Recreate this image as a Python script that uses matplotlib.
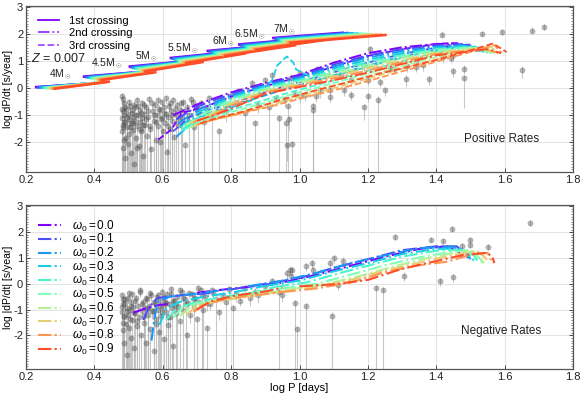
import numpy as np
import matplotlib
matplotlib.use('Agg')
import matplotlib.pyplot as plt
from matplotlib.ticker import MultipleLocator, FormatStrFormatter
from matplotlib.lines import Line2D

plt.rcParams['font.family'] = ['Liberation Sans', 'DejaVu Sans']
plt.rcParams['axes.unicode_minus'] = False
plt.rcParams['mathtext.fontset'] = 'custom'
plt.rcParams['mathtext.rm'] = 'Liberation Sans'
plt.rcParams['mathtext.it'] = 'Liberation Sans:italic'

omegas = [0.0, 0.1, 0.2, 0.3, 0.4, 0.5, 0.6, 0.7, 0.8, 0.9]
mass_labels = ['4M$_\\odot$', '4.5M$_\\odot$', '5M$_\\odot$', '5.5M$_\\odot$',
               '6M$_\\odot$', '6.5M$_\\odot$', '7M$_\\odot$']
mass_label_x = [0.300, 0.436, 0.553, 0.660, 0.777, 0.855, 0.957]
mass_label_y = [0.48, 0.91, 1.15, 1.46, 1.71, 1.99, 2.17]

# ---- 1st crossing: one straight piece per mass and omega ----
c1_x0 = [
    [0.226, 0.232, 0.238, 0.244, 0.250, 0.256, 0.262, 0.268, 0.274, 0.280],
    [0.366, 0.372, 0.377, 0.383, 0.388, 0.394, 0.399, 0.405, 0.410, 0.416],
    [0.500, 0.505, 0.510, 0.515, 0.520, 0.525, 0.530, 0.535, 0.540, 0.545],
    [0.620, 0.625, 0.630, 0.635, 0.640, 0.645, 0.650, 0.655, 0.660, 0.665],
    [0.728, 0.734, 0.740, 0.745, 0.751, 0.757, 0.763, 0.768, 0.774, 0.780],
    [0.820, 0.826, 0.831, 0.837, 0.842, 0.848, 0.853, 0.859, 0.864, 0.870],
    [0.920, 0.926, 0.931, 0.937, 0.942, 0.948, 0.953, 0.959, 0.964, 0.970],
]
c1_y0 = [
    [0.040, 0.033, 0.027, 0.020, 0.013, 0.007, 0.000, -0.007, -0.013, -0.020],
    [0.430, 0.416, 0.401, 0.387, 0.372, 0.358, 0.343, 0.329, 0.314, 0.300],
    [0.800, 0.780, 0.760, 0.740, 0.720, 0.700, 0.680, 0.660, 0.640, 0.620],
    [1.120, 1.099, 1.078, 1.057, 1.036, 1.014, 0.993, 0.972, 0.951, 0.930],
    [1.380, 1.360, 1.340, 1.320, 1.300, 1.280, 1.260, 1.240, 1.220, 1.200],
    [1.620, 1.598, 1.576, 1.553, 1.531, 1.509, 1.487, 1.464, 1.442, 1.420],
    [1.860, 1.840, 1.820, 1.800, 1.780, 1.760, 1.740, 1.720, 1.700, 1.680],
]
c1_x1 = [
    [0.380, 0.387, 0.395, 0.402, 0.409, 0.417, 0.424, 0.431, 0.439, 0.446],
    [0.510, 0.518, 0.526, 0.534, 0.542, 0.550, 0.558, 0.566, 0.574, 0.582],
    [0.640, 0.649, 0.658, 0.667, 0.676, 0.684, 0.693, 0.702, 0.711, 0.720],
    [0.780, 0.787, 0.794, 0.802, 0.809, 0.816, 0.823, 0.831, 0.838, 0.845],
    [0.900, 0.910, 0.920, 0.930, 0.940, 0.950, 0.960, 0.970, 0.980, 0.990],
    [1.000, 1.011, 1.022, 1.033, 1.044, 1.056, 1.067, 1.078, 1.089, 1.100],
    [1.130, 1.144, 1.158, 1.172, 1.186, 1.199, 1.213, 1.227, 1.241, 1.255],
]
c1_y1 = [
    [0.170, 0.179, 0.188, 0.197, 0.206, 0.214, 0.223, 0.232, 0.241, 0.250],
    [0.580, 0.582, 0.584, 0.587, 0.589, 0.591, 0.593, 0.596, 0.598, 0.600],
    [0.970, 0.971, 0.972, 0.973, 0.974, 0.976, 0.977, 0.978, 0.979, 0.980],
    [1.320, 1.318, 1.316, 1.313, 1.311, 1.309, 1.307, 1.304, 1.302, 1.300],
    [1.580, 1.582, 1.584, 1.587, 1.589, 1.591, 1.593, 1.596, 1.598, 1.600],
    [1.820, 1.822, 1.824, 1.827, 1.829, 1.831, 1.833, 1.836, 1.838, 1.840],
    [2.060, 2.051, 2.042, 2.033, 2.024, 2.016, 2.007, 1.998, 1.989, 1.980],
]

# ---- 2nd crossing (dash-dot), one row per omega ----
c2_x = [
    [0.63, 0.70, 0.80, 0.90, 1.00, 1.10, 1.20, 1.30, 1.40, 1.46, 1.49],
    [0.64, 0.70, 0.80, 0.90, 1.00, 1.10, 1.20, 1.30, 1.40, 1.47, 1.50],
    [0.645, 0.71, 0.80, 0.90, 1.00, 1.10, 1.20, 1.30, 1.40, 1.48, 1.51],
    [0.65, 0.71, 0.80, 0.90, 1.00, 1.10, 1.20, 1.30, 1.40, 1.49, 1.52],
    [0.655, 0.72, 0.80, 0.90, 1.00, 1.10, 1.20, 1.30, 1.40, 1.50, 1.53],
    [0.66, 0.72, 0.80, 0.90, 1.00, 1.10, 1.20, 1.30, 1.40, 1.51, 1.55],
    [0.67, 0.73, 0.80, 0.90, 1.00, 1.10, 1.20, 1.30, 1.40, 1.52, 1.56],
    [0.68, 0.74, 0.80, 0.90, 1.00, 1.10, 1.20, 1.30, 1.40, 1.53, 1.57],
    [0.69, 0.75, 0.80, 0.90, 1.00, 1.10, 1.20, 1.30, 1.40, 1.54, 1.58],
    [0.70, 0.76, 0.81, 0.90, 1.00, 1.10, 1.20, 1.30, 1.40, 1.55, 1.59],
]
c2_y = [
    [-1.00, -0.60, -0.15, 0.20, 0.50, 0.95, 1.30, 1.52, 1.64, 1.66, 1.45],
    [-1.15, -0.68, -0.21, 0.16, 0.45, 0.88, 1.22, 1.45, 1.59, 1.63, 1.42],
    [-1.30, -0.75, -0.27, 0.11, 0.40, 0.81, 1.14, 1.38, 1.55, 1.60, 1.40],
    [-1.45, -0.85, -0.33, 0.07, 0.35, 0.73, 1.06, 1.31, 1.50, 1.57, 1.38],
    [-1.55, -0.90, -0.39, 0.02, 0.30, 0.66, 0.98, 1.24, 1.45, 1.54, 1.36],
    [-1.40, -0.95, -0.46, -0.02, 0.25, 0.59, 0.90, 1.18, 1.41, 1.52, 1.35],
    [-1.35, -1.00, -0.52, -0.07, 0.20, 0.52, 0.82, 1.11, 1.36, 1.50, 1.34],
    [-1.30, -1.00, -0.58, -0.11, 0.15, 0.44, 0.74, 1.04, 1.31, 1.48, 1.33],
    [-1.25, -0.98, -0.64, -0.16, 0.10, 0.37, 0.66, 0.97, 1.27, 1.46, 1.32],
    [-1.20, -0.95, -0.70, -0.20, 0.05, 0.30, 0.58, 0.90, 1.22, 1.45, 1.30],
]

# ---- 3rd crossing (dashed), one row per omega ----
c3_x = [
    [0.587, 0.626, 0.655, 0.72, 0.80, 0.90, 1.00, 1.10, 1.20, 1.30, 1.41, 1.47, 1.51],
    [0.63, 0.68, 0.75, 0.85, 0.95, 1.05, 1.15, 1.25, 1.35, 1.45, 1.50, 1.52],
    [0.64, 0.69, 0.76, 0.86, 0.96, 1.06, 1.16, 1.26, 1.36, 1.46, 1.51, 1.53],
    [0.65, 0.70, 0.78, 0.86, 0.92, 0.935, 0.963, 0.982, 0.99, 1.05, 1.15, 1.25,
     1.35, 1.45, 1.52, 1.54],
    [0.66, 0.71, 0.78, 0.88, 0.98, 1.08, 1.18, 1.28, 1.38, 1.48, 1.53, 1.55],
    [0.67, 0.72, 0.79, 0.89, 0.99, 1.09, 1.19, 1.29, 1.39, 1.49, 1.54, 1.56],
    [0.68, 0.73, 0.80, 0.90, 1.00, 1.10, 1.20, 1.30, 1.40, 1.50, 1.55, 1.57],
    [0.69, 0.74, 0.81, 0.91, 1.01, 1.11, 1.21, 1.31, 1.41, 1.51, 1.56, 1.58],
    [0.70, 0.75, 0.82, 0.92, 1.02, 1.12, 1.22, 1.32, 1.42, 1.52, 1.57, 1.59],
    [0.71, 0.76, 0.84, 0.94, 1.04, 1.14, 1.235, 1.32, 1.40, 1.47, 1.52, 1.566, 1.606],
]
c3_y = [
    [-1.90, -1.52, -0.91, -0.71, -0.30, 0.08, 0.42, 0.80, 1.20, 1.45, 1.66, 1.67, 1.40],
    [-1.60, -1.05, -0.75, -0.35, 0.05, 0.40, 0.78, 1.12, 1.40, 1.60, 1.62, 1.35],
    [-1.80, -1.15, -0.80, -0.42, -0.02, 0.33, 0.70, 1.05, 1.34, 1.56, 1.58, 1.33],
    [-1.70, -1.10, -0.80, -0.45, 0.30, 0.85, 1.18, 0.95, 0.70, 0.30, 0.62, 0.98,
     1.28, 1.50, 1.54, 1.32],
    [-1.55, -1.15, -0.88, -0.50, -0.12, 0.22, 0.58, 0.94, 1.26, 1.50, 1.52, 1.30],
    [-1.50, -1.18, -0.92, -0.56, -0.18, 0.16, 0.52, 0.88, 1.21, 1.47, 1.50, 1.28],
    [-1.45, -1.20, -0.96, -0.60, -0.24, 0.10, 0.46, 0.82, 1.16, 1.45, 1.50, 1.28],
    [-1.40, -1.20, -1.00, -0.64, -0.28, 0.04, 0.40, 0.76, 1.11, 1.44, 1.55, 1.30],
    [-1.35, -1.15, -0.95, -0.66, -0.32, -0.01, 0.34, 0.70, 1.06, 1.42, 1.60, 1.32],
    [-1.30, -1.10, -0.85, -0.45, -0.10, 0.22, 0.55, 0.80, 1.05, 1.30, 1.48, 1.66, 1.34],
]

# ---- negative rates: two pieces per omega ----
neg_a_x = [
    [0.514, 0.55, 0.59, 0.62],
    [0.543, 0.56, 0.585, 0.65, 0.75],
    [0.567, 0.575, 0.585, 0.62, 0.70, 0.80],
    [0.59, 0.61, 0.65, 0.72, 0.80, 0.90],
    [0.61, 0.64, 0.70, 0.78, 0.86, 0.93],
    [0.63, 0.66, 0.72, 0.80, 0.88, 0.95],
    [0.65, 0.68, 0.75, 0.82, 0.90, 0.97],
    [0.67, 0.70, 0.77, 0.85, 0.95],
    [0.69, 0.72, 0.80, 0.87, 0.95],
    [0.70, 0.74, 0.81, 0.90, 0.95],
]
neg_a_y = [
    [-1.12, -0.95, -0.82, -0.78],
    [-1.40, -0.90, -0.55, -0.45, -0.35],
    [-2.20, -1.40, -0.70, -0.50, -0.38, -0.20],
    [-1.60, -0.95, -0.70, -0.50, -0.35, -0.08],
    [-1.40, -0.95, -0.70, -0.50, -0.35, -0.12],
    [-1.30, -0.90, -0.70, -0.50, -0.30, -0.18],
    [-1.25, -0.90, -0.68, -0.50, -0.35, -0.22],
    [-1.20, -0.85, -0.65, -0.50, -0.30],
    [-1.10, -0.80, -0.55, -0.45, -0.32],
    [-1.00, -0.68, -0.46, -0.30, -0.15],
]
neg_b_x = [
    [0.70, 0.76, 0.85, 0.95, 1.05, 1.15, 1.25, 1.35, 1.43, 1.46, 1.475],
    [0.80, 0.90, 1.00, 1.10, 1.20, 1.30, 1.40, 1.46, 1.48, 1.494],
    [0.85, 0.95, 1.05, 1.15, 1.25, 1.35, 1.45, 1.49, 1.50],
    [0.90, 1.00, 1.10, 1.20, 1.30, 1.40, 1.47, 1.50, 1.51],
    [0.93, 1.02, 1.10, 1.20, 1.30, 1.40, 1.48, 1.51, 1.52],
    [0.95, 1.05, 1.15, 1.25, 1.35, 1.45, 1.50, 1.53, 1.535],
    [0.97, 1.07, 1.17, 1.27, 1.37, 1.46, 1.51, 1.53, 1.54],
    [0.95, 1.05, 1.15, 1.25, 1.35, 1.45, 1.52, 1.545, 1.55],
    [0.95, 1.05, 1.15, 1.25, 1.35, 1.43, 1.50, 1.55, 1.56, 1.565],
    [1.00, 1.10, 1.20, 1.30, 1.40, 1.48, 1.55, 1.565, 1.57],
]
neg_b_y = [
    [-0.35, -0.25, -0.12, 0.05, 0.35, 0.70, 1.05, 1.35, 1.45, 1.30, 1.05],
    [-0.22, 0.00, 0.22, 0.62, 0.95, 1.30, 1.45, 1.45, 1.20, 1.00],
    [-0.10, 0.12, 0.42, 0.80, 1.10, 1.38, 1.44, 1.15, 0.95],
    [-0.08, 0.12, 0.48, 0.80, 1.15, 1.35, 1.36, 1.05, 0.90],
    [-0.12, 0.05, 0.35, 0.70, 1.05, 1.28, 1.32, 1.10, 0.90],
    [-0.18, 0.00, 0.35, 0.72, 1.02, 1.25, 1.30, 0.95, 0.80],
    [-0.22, -0.03, 0.28, 0.65, 0.98, 1.22, 1.26, 0.95, 0.80],
    [-0.30, -0.12, 0.15, 0.52, 0.82, 1.12, 1.25, 1.00, 0.80],
    [-0.32, -0.18, 0.05, 0.45, 0.72, 0.85, 1.12, 1.20, 0.92, 0.80],
    [-0.10, -0.02, 0.15, 0.58, 0.88, 1.12, 1.20, 1.00, 0.80],
]

# ---- observed stars, positive rates ----
pos_logp = [
    0.480, 0.481, 0.482, 0.483, 0.484, 0.485, 0.486, 0.487, 0.488, 0.490,
    0.491, 0.493, 0.495, 0.497, 0.499, 0.500, 0.502, 0.504, 0.506, 0.508,
    0.510, 0.512, 0.514, 0.516, 0.518, 0.520, 0.522, 0.524, 0.526, 0.528,
    0.530, 0.532, 0.534, 0.536, 0.538, 0.540, 0.543, 0.546, 0.549, 0.552,
    0.555, 0.558, 0.561, 0.564, 0.567, 0.570, 0.573, 0.576, 0.579, 0.582,
    0.585, 0.588, 0.591, 0.594, 0.597, 0.600, 0.603, 0.606, 0.609, 0.612,
    0.615, 0.618, 0.621, 0.624, 0.627, 0.630, 0.634, 0.638, 0.642, 0.646,
    0.650, 0.655, 0.660, 0.666, 0.672, 0.678, 0.684, 0.690, 0.697, 0.704,
    0.712, 0.720, 0.728, 0.736, 0.745, 0.755, 0.765, 0.775, 0.786, 0.798,
    0.4805, 0.4825, 0.4845, 0.4865, 0.489, 0.492, 0.496, 0.501, 0.505, 0.509,
    0.513, 0.517, 0.521, 0.525, 0.529, 0.533, 0.537, 0.541, 0.545, 0.550,
    0.556, 0.562, 0.568, 0.574, 0.580, 0.586, 0.592, 0.598, 0.604, 0.610,
    0.616, 0.622, 0.628, 0.636, 0.644, 0.652, 0.662, 0.674, 0.688, 0.702,
    0.82, 0.84, 0.86, 0.87, 0.88, 0.90, 0.91, 0.92, 0.93, 0.94,
    0.958, 0.96, 0.962, 0.967, 0.97, 0.975, 0.977, 0.987, 1.00, 1.00,
    1.016, 1.04, 1.04, 1.047, 1.05, 1.06, 1.09, 1.09, 1.10, 1.12,
    1.13, 1.15, 1.152, 1.165, 1.19, 1.19, 1.20, 1.20, 1.206, 1.235,
    1.23, 1.25, 1.265, 1.275, 1.31, 1.313, 1.34, 1.34, 1.362, 1.38,
    1.416, 1.42, 1.443, 1.45, 1.45, 1.48, 1.48, 1.535, 1.593, 1.65,
    1.68, 1.716,
]
pos_logdp = [
    -0.30, -1.10, -1.60, -0.85, -2.20, -1.35, -0.55, -1.90, -1.00, -2.60,
    -1.25, -0.75, -1.45, -2.05, -0.95, -1.70, -1.15, -0.65, -2.40, -1.30,
    -0.90, -1.55, -1.05, -2.80, -0.70, -1.20, -1.85, -0.45, -1.40, -1.00,
    -2.15, -0.80, -1.25, -1.60, -0.55, -1.10, -2.50, -0.95, -1.35, -0.70,
    -1.75, -1.05, -0.40, -1.50, -2.25, -0.85, -1.20, -0.60, -1.90, -1.00,
    -1.40, -0.75, -2.00, -1.15, -0.50, -1.60, -0.90, -1.30, -0.35, -2.35,
    -1.05, -0.65, -1.50, -0.85, -1.20, -0.45, -1.80, -0.95, -0.60, -1.35,
    -0.80, -1.10, -0.50, -2.10, -0.70, -1.00, -0.40, -1.45, -0.65, -0.90,
    -0.55, -1.25, -0.75, -0.35, -1.05, -0.60, -1.60, -0.45, -0.85, -0.30,
    -0.75, -1.45, -0.40, -1.25, -0.70, -1.85, -1.05, -0.50, -1.45, -0.80,
    -1.30, -0.60, -1.00, -2.20, -0.65, -1.50, -0.90, -1.35, -0.60, -1.15,
    -0.85, -1.40, -0.55, -1.00, -1.25, -0.45, -0.80, -1.10, -0.70, -0.95,
    -1.40, -0.55, -1.00, -0.75, -1.15, -0.55, -0.85, -1.20, -0.50, -0.75,
    -0.10, -0.90, 0.20, -1.30, -0.60, 0.30, -0.70, 0.50, -0.35, -1.10,
    -0.40, -1.27, -2.10, -0.65, -1.14, 0.40, -2.08, -0.22, -0.30, 0.55,
    -0.26, -0.66, -0.81, -0.30, 0.70, -0.07, -0.32, -0.05, 0.80, 0.50,
    -0.07, 0.30, -0.23, 1.00, 0.85, -0.69, 0.32, -0.30, 1.46, 0.23,
    -0.42, -0.07, 0.75, 0.72, 0.36, 0.82, 1.03, 0.80, 0.85, 0.34,
    1.99, 1.15, 1.13, 1.23, 0.63, 0.73, 0.38, 2.02, 2.07, 0.69,
    2.14, 2.26,
]
pos_err_lo = [
    4, 0.3, 4, 0.2, 4, 4, 0.3, 4, 0.4, 4,
    4, 0.2, 4, 4, 0.3, 4, 0.5, 4, 4, 0.3,
    4, 4, 0.2, 4, 0.3, 4, 4, 0.2, 4, 0.4,
    4, 0.3, 4, 4, 0.2, 4, 4, 0.3, 4, 0.2,
    4, 0.4, 0.2, 4, 4, 0.3, 4, 0.2, 4, 0.3,
    4, 0.2, 4, 4, 0.2, 4, 0.3, 4, 0.2, 4,
    4, 0.2, 4, 0.3, 4, 0.2, 4, 4, 0.2, 4,
    0.3, 4, 0.2, 4, 0.3, 4, 0.2, 4, 0.3, 4,
    0.2, 4, 0.3, 0.2, 4, 0.3, 4, 0.2, 0.4, 0.3,
    0.3, 4, 0.2, 0.3, 4, 0.2, 4, 0.3, 0.2, 4,
    0.3, 4, 0.2, 4, 0.3, 0.2, 4, 0.3, 4, 0.2,
    0.3, 4, 0.2, 0.3, 4, 0.2, 0.3, 4, 0.2, 0.3,
    4, 0.2, 4, 0.3, 0.2, 4, 0.3, 0.2, 4, 0.3,
    0.2, 4, 0.2, 4, 0.3, 0.2, 4, 0.2, 0.3, 4,
    0.3, 4, 0.6, 4, 0.4, 0.2, 1.0, 0.2, 0.2, 0.2,
    0.2, 4, 4, 0.2, 0.2, 0.3, 0.2, 0.2, 0.2, 0.2,
    0.2, 0.2, 0.2, 0.2, 0.2, 0.5, 0.2, 0.2, 0.2, 0.2,
    4, 0.2, 0.2, 0.2, 0.3, 0.2, 0.2, 0.2, 0.2, 0.2,
    0.1, 0.2, 0.2, 0.2, 0.2, 0.2, 1.1, 0.1, 0.1, 0.3,
    0.1, 0.1,
]

# ---- observed stars, negative rates ----
neg_logp = [
    0.480, 0.481, 0.483, 0.484, 0.486, 0.488, 0.490, 0.492, 0.494, 0.496,
    0.498, 0.500, 0.502, 0.504, 0.506, 0.508, 0.510, 0.513, 0.516, 0.519,
    0.522, 0.525, 0.528, 0.531, 0.534, 0.537, 0.540, 0.543, 0.546, 0.549,
    0.552, 0.555, 0.558, 0.561, 0.564, 0.567, 0.570, 0.573, 0.576, 0.579,
    0.582, 0.585, 0.588, 0.591, 0.594, 0.597, 0.600, 0.603, 0.606, 0.609,
    0.612, 0.615, 0.618, 0.621, 0.624, 0.627, 0.630, 0.634, 0.638, 0.642,
    0.646, 0.650, 0.655, 0.660, 0.665, 0.670, 0.675, 0.680, 0.685, 0.690,
    0.695, 0.700, 0.706, 0.712, 0.718, 0.724, 0.730, 0.738, 0.746, 0.755,
    0.765, 0.775, 0.785, 0.795, 0.805, 0.815, 0.825, 0.840, 0.855, 0.870,
    0.4805, 0.4825, 0.485, 0.487, 0.491, 0.495, 0.499, 0.503, 0.507, 0.511,
    0.515, 0.520, 0.526, 0.532, 0.538, 0.544, 0.550, 0.556, 0.562, 0.568,
    0.574, 0.580, 0.586, 0.592, 0.598, 0.604, 0.610, 0.616, 0.623, 0.631,
    0.640, 0.649, 0.658, 0.668, 0.678, 0.690, 0.703, 0.716, 0.730, 0.745,
    0.88, 0.90, 0.92, 0.94, 0.95, 0.962, 0.972, 0.975, 0.977, 0.987,
    0.992, 1.02, 1.019, 1.036, 1.04, 1.09, 1.094, 1.10, 1.113, 1.128,
    1.224, 1.243, 1.28, 1.306, 1.384, 1.411, 1.42, 1.445, 1.45, 1.474,
    1.499, 1.50, 1.552, 1.674,
]
neg_logdp = [
    -0.45, -1.10, -1.80, -0.80, -2.30, -1.30, -0.60, -1.55, -2.75, -0.95,
    -1.20, -0.35, -1.70, -1.00, -2.10, -0.70, -1.40, -0.90, -2.50, -1.15,
    -0.55, -1.65, -0.85, -1.30, -0.25, -2.00, -1.05, -0.70, -1.50, -0.95,
    -2.30, -0.60, -1.20, -0.85, -1.75, -0.45, -1.05, -2.60, -0.75, -1.35,
    -0.50, -1.00, -1.85, -0.65, -1.25, -0.30, -0.90, -2.15, -0.70, -1.10,
    -0.40, -1.60, -0.80, -1.30, -0.20, -0.95, -2.40, -0.65, -1.15, -0.50,
    -0.85, -1.45, -0.30, -1.00, -0.60, -2.00, -0.75, -1.20, -0.40, -0.90,
    -0.55, -1.35, -0.70, -0.25, -1.00, -0.50, -1.70, -0.80, -0.35, -0.60,
    -1.10, -0.45, -0.70, -0.20, -0.95, -0.40, -0.65, -0.15, -0.55, -0.30,
    -0.90, -1.50, -0.60, -1.25, -0.75, -1.05, -0.55, -1.35, -0.85, -0.40,
    -1.15, -0.65, -1.45, -0.30, -0.80, -1.25, -0.55, -0.95, -0.35, -1.05,
    -0.70, -1.55, -0.45, -0.85, -1.10, -0.50, -0.75, -1.30, -0.40, -0.65,
    -0.90, -0.25, -0.55, -0.80, -0.35, -0.60, -0.15, -0.45, -0.75, -0.25,
    -0.45, -0.10, 0.10, -0.30, -0.42, 0.40, 0.55, 0.30, 0.55, -0.76,
    -1.77, 0.70, -0.87, 0.81, 0.55, 0.82, -1.23, 1.00, -0.03, 0.90,
    -0.16, -0.26, 1.80, 0.32, 1.71, 0.10, 1.64, 2.12, 0.27, 1.45,
    1.71, 1.50, 1.41, 2.35,
]
neg_err_lo = [
    4, 0.3, 4, 0.2, 4, 4, 0.3, 4, 0.5, 0.3,
    4, 0.2, 4, 0.3, 4, 0.2, 4, 0.3, 4, 4,
    0.2, 4, 0.3, 4, 0.2, 4, 0.3, 0.2, 4, 4,
    4, 0.2, 4, 0.3, 4, 0.2, 0.3, 4, 0.2, 4,
    0.2, 4, 4, 0.3, 4, 0.2, 0.3, 4, 0.2, 4,
    0.2, 4, 0.3, 4, 0.2, 4, 4, 0.3, 0.2, 4,
    0.3, 4, 0.2, 4, 0.3, 4, 0.2, 0.3, 0.2, 4,
    0.3, 4, 0.2, 0.2, 4, 0.3, 4, 0.2, 0.3, 4,
    0.3, 0.2, 4, 0.2, 4, 0.3, 0.2, 0.2, 0.3, 0.2,
    0.3, 4, 0.2, 4, 0.3, 4, 0.2, 4, 0.3, 0.2,
    4, 0.3, 4, 0.2, 0.3, 4, 0.2, 4, 0.2, 0.3,
    4, 0.2, 0.3, 4, 0.2, 0.3, 0.2, 4, 0.2, 0.3,
    4, 0.2, 0.3, 4, 0.2, 0.3, 0.2, 4, 0.3, 0.2,
    0.3, 0.2, 0.2, 4, 0.3, 0.2, 0.2, 0.2, 0.2, 4,
    4, 0.2, 4, 0.2, 0.2, 0.2, 4, 0.2, 0.2, 0.2,
    4, 4, 0.1, 0.2, 0.1, 0.2, 0.1, 0.1, 0.2, 0.1,
    0.1, 0.1, 0.1, 0.1,
]

colors = plt.cm.rainbow(omegas)


def draw_stars(ax, logp, logdp, err_lo):
    err_hi = np.full(len(logp), 0.12)
    ax.errorbar(logp, logdp, yerr=[err_lo, err_hi], fmt='none', ecolor='#b5b5b5',
                elinewidth=0.8, alpha=0.75, zorder=1)
    ax.plot(logp, logdp, 'o', ms=3.8, mfc='#4a4a4a', mec='#4a4a4a', mew=0.3,
            alpha=0.4, zorder=2, ls='none')


def style_axes(ax, ylo):
    ax.set_xlim(0.2, 1.8)
    ax.set_ylim(ylo, 3.05)
    ax.set_xticks([0.2, 0.4, 0.6, 0.8, 1.0, 1.2, 1.4, 1.6, 1.8])
    ax.set_yticks([-2, -1, 0, 1, 2, 3])
    ax.xaxis.set_major_formatter(FormatStrFormatter('%.1f'))
    ax.yaxis.set_major_formatter(FormatStrFormatter('%d'))
    ax.yaxis.set_minor_locator(MultipleLocator(0.1))
    ax.set_axisbelow(True)
    ax.grid(True, color='#e3e3e3', lw=0.7)
    ax.tick_params(which='both', direction='in', right=True, labelsize=8,
                   colors='#333333', labelcolor='#222222', pad=2)
    ax.tick_params(which='major', length=3, width=0.6)
    ax.tick_params(which='minor', length=1.5, width=0.4)
    for sp in ax.spines.values():
        sp.set_color('#555555')
        sp.set_linewidth(0.9)


fig = plt.figure(figsize=(5.83, 3.96), dpi=100)
ax1 = fig.add_axes([0.0446, 0.5657, 0.9383, 0.4192])
ax2 = fig.add_axes([0.0446, 0.0682, 0.9383, 0.4141])

# ---------------- top panel ----------------
draw_stars(ax1, pos_logp, pos_logdp, pos_err_lo)
for m in range(len(mass_labels)):
    for k in range(len(omegas)):
        ax1.plot([c1_x0[m][k], c1_x1[m][k]], [c1_y0[m][k], c1_y1[m][k]],
                 '-', color=colors[k], lw=1.9, zorder=3, solid_capstyle='butt')
    ax1.text(mass_label_x[m], mass_label_y[m], mass_labels[m], fontsize=7.5,
             ha='center', va='center', color='#222222')
for k in range(len(omegas)):
    ax1.plot(c2_x[k], c2_y[k], '-.', color=colors[k], lw=1.4, zorder=3)
    ax1.plot(c3_x[k], c3_y[k], '--', color=colors[k], lw=1.3, zorder=3)

style_axes(ax1, -3.1)
ax1.set_ylabel('log dP/dt [s/year]', fontsize=7.5, labelpad=0)
ax1.text(1.59, -1.88, 'Positive Rates', fontsize=8.5, ha='center', va='center',
         color='#222222')
ax1.text(0.215, 1.12, '$Z$ = 0.007', fontsize=9, ha='left', va='center',
         color='#222222')
handles = [Line2D([], [], color=colors[0], ls='-', lw=1.3),
           Line2D([], [], color=colors[0], ls='-.', lw=1.3, alpha=0.8),
           Line2D([], [], color=colors[0], ls='--', lw=1.3, alpha=0.7)]
ax1.legend(handles, ['1st crossing', '2nd crossing', '3rd crossing'],
           loc='upper left', bbox_to_anchor=(0.005, 0.995), frameon=False,
           fontsize=8, handlelength=1.9, handletextpad=0.9, labelspacing=0.22,
           borderaxespad=0.4)

# ---------------- bottom panel ----------------
draw_stars(ax2, neg_logp, neg_logdp, neg_err_lo)
for k in range(len(omegas)):
    ax2.plot(neg_a_x[k], neg_a_y[k], '-.', color=colors[k], lw=1.5, zorder=3)
    ax2.plot(neg_b_x[k], neg_b_y[k], '-.', color=colors[k], lw=1.5, zorder=3,
             label='$\\omega_0 = %.1f$' % omegas[k])

style_axes(ax2, -3.3)
ax2.set_ylabel('log |dP/dt| [s/year]', fontsize=7.5, labelpad=0)
ax2.set_xlabel('log P [days]', fontsize=8, labelpad=1)
ax2.text(1.59, -1.83, 'Negative Rates', fontsize=8.5, ha='center', va='center',
         color='#222222')
ax2.legend(loc='upper left', bbox_to_anchor=(0.005, 0.975), frameon=False,
           fontsize=8.5, handlelength=1.9, handletextpad=1.0, labelspacing=-0.12,
           borderaxespad=0.4)

fig.savefig('out.png', dpi=100)
